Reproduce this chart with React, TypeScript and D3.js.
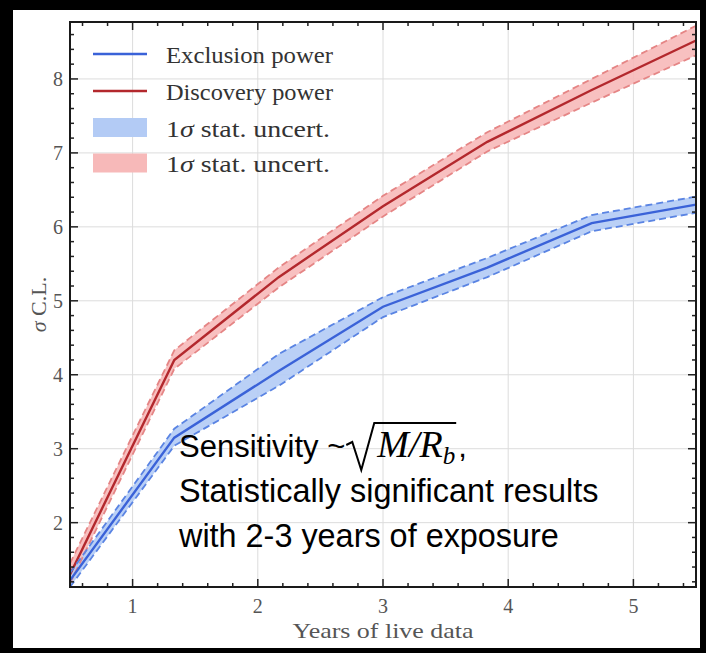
import React, { useRef, useEffect } from "react";
import * as d3 from "d3";

// years of live data, sampled every 10 months
const years = [0.5, 1.333, 2.167, 3.0, 3.833, 4.667, 5.5];
const exclusion = [1.22, 3.15, 4.05, 4.92, 5.45, 6.05, 6.3];
const exclusionLow = [1.13, 3.04, 3.85, 4.78, 5.32, 5.94, 6.19];
const exclusionHigh = [1.32, 3.27, 4.28, 5.05, 5.58, 6.16, 6.41];
const discovery = [1.3, 4.2, 5.32, 6.28, 7.15, 7.85, 8.52];
const discoveryLow = [1.18, 4.08, 5.18, 6.14, 7.02, 7.68, 8.32];
const discoveryHigh = [1.45, 4.33, 5.45, 6.42, 7.28, 8.0, 8.72];
const xTicks = [1, 2, 3, 4, 5];
const yTicks = [2, 3, 4, 5, 6, 7, 8];
const legendLabels = ["Exclusion power", "Discovery power"];

const App = () => {
  const svgRef = useRef(null);

  useEffect(() => {
    const svg = d3.select(svgRef.current);
    svg.selectAll("*").remove();

    const width = 706;
    const height = 653;
    const box = { left: 70, top: 22, right: 696, bottom: 587 };

    svg.append("rect").attr("width", width).attr("height", height).attr("fill", "#000");
    svg
      .append("rect")
      .attr("x", 13)
      .attr("y", 10)
      .attr("width", 687)
      .attr("height", 638)
      .attr("fill", "#fff");

    const x = d3.scaleLinear().domain([0.5, 5.5]).range([box.left, box.right]);
    const y = d3.scaleLinear().domain([1.13, 8.77]).range([box.bottom, box.top]);

    const g = svg.append("g");

    // grid
    g.selectAll(".vgrid")
      .data(xTicks)
      .enter()
      .append("line")
      .attr("x1", (d) => x(d))
      .attr("x2", (d) => x(d))
      .attr("y1", box.top)
      .attr("y2", box.bottom)
      .attr("stroke", "#dcdcdc")
      .attr("stroke-width", 1);
    g.selectAll(".hgrid")
      .data(yTicks)
      .enter()
      .append("line")
      .attr("x1", box.left)
      .attr("x2", box.right)
      .attr("y1", (d) => y(d))
      .attr("y2", (d) => y(d))
      .attr("stroke", "#dcdcdc")
      .attr("stroke-width", 1);

    const idx = d3.range(years.length);
    const area = (lo, hi) =>
      d3
        .area()
        .x((i) => x(years[i]))
        .y0((i) => y(lo[i]))
        .y1((i) => y(hi[i]));
    const line = (vals) =>
      d3
        .line()
        .x((i) => x(years[i]))
        .y((i) => y(vals[i]));

    const plot = g.append("g");
    const series = [
      { mid: discovery, lo: discoveryLow, hi: discoveryHigh, fill: "#f7b9b9", dash: "#e58585", col: "#b3282d" },
      { mid: exclusion, lo: exclusionLow, hi: exclusionHigh, fill: "#b3cbf5", dash: "#5a84e3", col: "#3a62d8" },
    ];
    series.forEach((s) => {
      plot.append("path").attr("d", area(s.lo, s.hi)(idx)).attr("fill", s.fill).attr("opacity", 0.9);
    });
    series.forEach((s) => {
      [s.lo, s.hi].forEach((v) =>
        plot
          .append("path")
          .attr("d", line(v)(idx))
          .attr("fill", "none")
          .attr("stroke", s.dash)
          .attr("stroke-width", 1.8)
          .attr("stroke-dasharray", "7,4")
      );
      plot
        .append("path")
        .attr("d", line(s.mid)(idx))
        .attr("fill", "none")
        .attr("stroke", s.col)
        .attr("stroke-width", 2.4);
    });

    // ticks on all four sides, pointing inward
    const xMinor = d3.range(0.6, 5.45, 0.2).filter((v) => Math.abs(v - Math.round(v)) > 0.01);
    const yMinor = d3.range(1.2, 8.75, 0.2).filter((v) => Math.abs(v - Math.round(v)) > 0.01);
    const tickG = g.append("g").attr("stroke", "#222").attr("stroke-width", 1.5);
    const addX = (vals, len) =>
      vals.forEach((v) => {
        tickG.append("line").attr("x1", x(v)).attr("x2", x(v)).attr("y1", box.bottom).attr("y2", box.bottom - len);
        tickG.append("line").attr("x1", x(v)).attr("x2", x(v)).attr("y1", box.top).attr("y2", box.top + len);
      });
    const addY = (vals, len) =>
      vals.forEach((v) => {
        tickG.append("line").attr("x1", box.left).attr("x2", box.left + len).attr("y1", y(v)).attr("y2", y(v));
        tickG.append("line").attr("x1", box.right).attr("x2", box.right - len).attr("y1", y(v)).attr("y2", y(v));
      });
    addX(xTicks, 8);
    addX(xMinor, 4);
    addY(yTicks, 8);
    addY(yMinor, 4);

    g.append("rect")
      .attr("x", box.left)
      .attr("y", box.top)
      .attr("width", box.right - box.left)
      .attr("height", box.bottom - box.top)
      .attr("fill", "none")
      .attr("stroke", "#1a1a1a")
      .attr("stroke-width", 2);

    const serif = "'Liberation Serif', 'DejaVu Serif', serif";

    // tick labels
    g.selectAll(".xl")
      .data(xTicks)
      .enter()
      .append("text")
      .attr("x", (d) => x(d))
      .attr("y", 613)
      .attr("text-anchor", "middle")
      .attr("font-family", serif)
      .attr("font-size", 20)
      .attr("fill", "#555")
      .text((d) => d);
    g.selectAll(".yl")
      .data(yTicks)
      .enter()
      .append("text")
      .attr("x", 63)
      .attr("y", (d) => y(d) + 7)
      .attr("text-anchor", "end")
      .attr("font-family", serif)
      .attr("font-size", 20)
      .attr("fill", "#555")
      .text((d) => d);

    g.append("text")
      .attr("x", (box.left + box.right) / 2)
      .attr("y", 638)
      .attr("text-anchor", "middle")
      .attr("font-family", serif)
      .attr("font-size", 22)
      .attr("fill", "#555")
      .attr("textLength", 181)
      .attr("lengthAdjust", "spacingAndGlyphs")
      .text("Years of live data");

    const yl = g
      .append("text")
      .attr("transform", `translate(46,${(box.top + box.bottom) / 2}) rotate(-90)`)
      .attr("text-anchor", "middle")
      .attr("font-family", serif)
      .attr("font-size", 22)
      .attr("fill", "#555");
    yl.append("tspan").attr("font-style", "italic").text("σ");
    yl.append("tspan").text(" C.L.");

    // legend
    const leg = g.append("g");
    const handles = [
      { kind: "line", color: "#3a62d8", cy: 54 },
      { kind: "line", color: "#b3282d", cy: 91 },
      { kind: "patch", color: "#b3cbf5", cy: 127.5 },
      { kind: "patch", color: "#f7b9b9", cy: 163 },
    ];
    handles.forEach((h, i) => {
      if (h.kind === "line") {
        leg.append("line").attr("x1", 93).attr("x2", 147).attr("y1", h.cy).attr("y2", h.cy).attr("stroke", h.color).attr("stroke-width", 2.4);
      } else {
        leg.append("rect").attr("x", 93).attr("y", h.cy - 9.5).attr("width", 54).attr("height", 19).attr("fill", h.color);
      }
      const t = leg
        .append("text")
        .attr("x", 166)
        .attr("y", h.cy + 9)
        .attr("font-family", serif)
        .attr("font-size", 23)
        .attr("fill", "#333")
        .attr("lengthAdjust", "spacingAndGlyphs");
      if (i < 2) {
        t.attr("textLength", 167).text(legendLabels[i]);
      } else {
        t.attr("textLength", 164);
        t.append("tspan").text("1");
        t.append("tspan").attr("font-style", "italic").text("σ");
        t.append("tspan").text(" stat. uncert.");
      }
    });

    // annotation
    const sans = "'Liberation Sans', Arial, sans-serif";
    const note = g.append("g").attr("fill", "#000");
    const first = note
      .append("text")
      .attr("x", 179)
      .attr("y", 457)
      .attr("font-family", sans)
      .attr("font-size", 31)
      .text("Sensitivity ~");
    const x0 = 179 + first.node().getComputedTextLength() + 1;
    const yb = 457;
    const mr = note
      .append("text")
      .attr("x", x0 + 31)
      .attr("y", yb)
      .attr("font-family", serif)
      .attr("font-size", 38)
      .attr("font-style", "italic");
    mr.append("tspan").text("M/R");
    mr.append("tspan").attr("font-size", 25).attr("dy", 7).text("b");
    const xEnd = x0 + 31 + mr.node().getComputedTextLength() + 1;
    note
      .append("path")
      .attr("d", `M${x0},${yb - 12} L${x0 + 6},${yb - 15} L${x0 + 15},${yb + 13} L${x0 + 28},${yb - 34} L${xEnd},${yb - 34}`)
      .attr("fill", "none")
      .attr("stroke", "#000")
      .attr("stroke-width", 2);
    note
      .append("text")
      .attr("x", xEnd + 2)
      .attr("y", yb)
      .attr("font-family", sans)
      .attr("font-size", 31)
      .text(",");
    note
      .append("text")
      .attr("x", 179)
      .attr("y", 502)
      .attr("font-family", sans)
      .attr("font-size", 32.4)
      .text("Statistically significant results");
    note
      .append("text")
      .attr("x", 179)
      .attr("y", 547)
      .attr("font-family", sans)
      .attr("font-size", 32.4)
      .text("with 2-3 years of exposure");
  }, []);

  return (
    <svg
      ref={svgRef}
      width={706}
      height={653}
      style={{ position: "absolute", left: 0, top: 0, display: "block" }}
    ></svg>
  );
};

export default App;
